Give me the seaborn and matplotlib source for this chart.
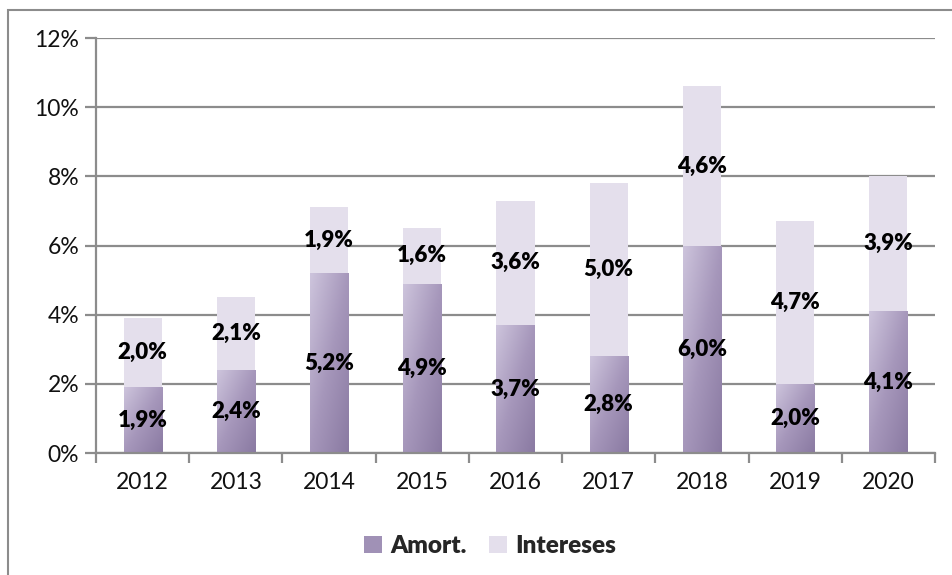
import numpy as np
import pandas as pd
import matplotlib
matplotlib.use("Agg")
import matplotlib.pyplot as plt
import seaborn as sns
from matplotlib.patches import Rectangle, Patch
from matplotlib.colors import LinearSegmentedColormap

years = ["2012", "2013", "2014", "2015", "2016", "2017", "2018", "2019", "2020"]
amort = [1.9, 2.4, 5.2, 4.9, 3.7, 2.8, 6.0, 2.0, 4.1]
intereses = [2.0, 2.1, 1.9, 1.6, 3.6, 5.0, 4.6, 4.7, 3.9]
yticks = [0, 2, 4, 6, 8, 10, 12]
series_names = ["Amort.", "Intereses"]

sns.set_theme(style="white")
plt.rcParams["font.family"] = ["Lato", "DejaVu Sans"]

df = pd.DataFrame({"year": years, "amort": amort, "intereses": intereses})
df["total"] = df["amort"] + df["intereses"]

fig = plt.figure(figsize=(9.52, 5.75), dpi=100)
ax = fig.add_axes([96/952, 1-453/575, (935-96)/952, (453-38)/575])

grid_c = "#8c8c8c"
amort_c = "#a798bd"
int_c = "#e4dfec"

sns.barplot(data=df, x="year", y="total", color=int_c, width=0.41, ax=ax,
            saturation=1, edgecolor="none")
sns.barplot(data=df, x="year", y="amort", color=amort_c, width=0.41, ax=ax,
            saturation=1, edgecolor="none")

# gradient fill for amort bars
cmap = LinearSegmentedColormap.from_list("g", ["#cdc4dc", "#a697bb", "#8a7aa2"])
grad = np.add.outer(np.linspace(0, 1, 50), np.linspace(0, 1, 50)) / 2
n = len(years)
amort_patches = ax.patches[n:2*n]
for p in amort_patches:
    x0, y0 = p.get_x(), p.get_y()
    w, h = p.get_width(), p.get_height()
    im = ax.imshow(grad, cmap=cmap, extent=[x0, x0 + w, y0, y0 + h],
                   aspect="auto", origin="upper", zorder=p.get_zorder(),
                   interpolation="bilinear")
    im.set_clip_path(p)

ax.set_xlim(-0.5, n - 0.5)
ax.set_ylim(0, 12)
ax.set_yticks(yticks)
ax.set_yticklabels([f"{v}%" for v in yticks])
ax.set_xlabel("")
ax.set_ylabel("")
ax.yaxis.grid(True, color=grid_c, linewidth=1.6)
ax.set_axisbelow(True)
for s in ["top", "right"]:
    ax.spines[s].set_visible(False)
for s in ["left", "bottom"]:
    ax.spines[s].set_color(grid_c)
    ax.spines[s].set_linewidth(1.6)

ax.tick_params(axis="y", which="major", length=8, width=1.6, color=grid_c,
               labelsize=16.5, pad=4, left=True, labelcolor="#111111")
ax.tick_params(axis="x", which="major", length=0, labelsize=16.5, pad=14,
               labelcolor="#111111")
ax.set_xticks(np.arange(-0.5, n, 1.0), minor=True)
ax.tick_params(axis="x", which="minor", length=7, width=1.6, color=grid_c,
               bottom=True, direction="out")

for i in range(n):
    ax.text(i, amort[i] / 2, f"{amort[i]:.1f}%".replace(".", ","),
            ha="center", va="center", fontsize=16, fontweight="heavy",
            color="black", zorder=5)
    ax.text(i, amort[i] + intereses[i] / 2, f"{intereses[i]:.1f}%".replace(".", ","),
            ha="center", va="center", fontsize=16, fontweight="heavy",
            color="black", zorder=5)

handles = [Patch(facecolor="#a091b6", edgecolor="none"),
           Patch(facecolor=int_c, edgecolor="none")]
fig.legend(handles, series_names, loc="center", bbox_to_anchor=(0.515, 1 - 546/575),
           ncol=2, frameon=False, handlelength=0.75, handleheight=0.75,
           columnspacing=0.9, handletextpad=0.35,
           prop={"weight": "heavy", "size": 17.5})

# figure border (partially cropped at right/bottom)
fig.patches.append(Rectangle((8/952, -0.1), 1.2, 1 - 10/575 + 0.1,
                             transform=fig.transFigure, fill=False,
                             edgecolor=grid_c, linewidth=1.5))

fig.savefig("out.png", dpi=100)
